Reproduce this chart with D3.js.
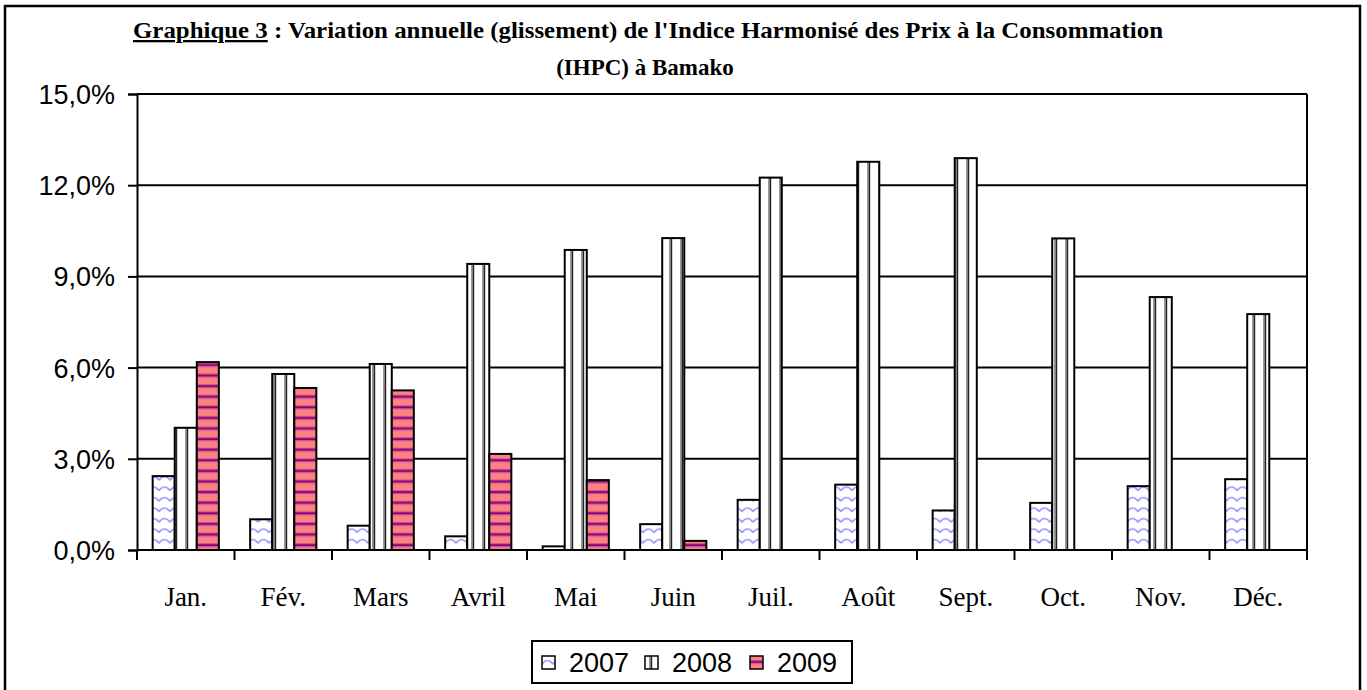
<!DOCTYPE html>
<html>
<head>
<meta charset="utf-8">
<script src="https://cdn.jsdelivr.net/npm/d3@7"></script>
<style>
  body { margin: 0; background: #fff; }
  svg { display: block; }
  .axis path, .axis line { stroke: #000; stroke-width: 2; }
  .ylab text { font-family: "Liberation Sans", Arial, sans-serif; font-size: 27px; fill: #000; }
  .xlab text { font-family: "Liberation Serif", "Times New Roman", serif; font-size: 27px; fill: #000; }
</style>
</head>
<body>
<div id="chart"></div>
<script>
// data
const months = ["Jan.", "Fév.", "Mars", "Avril", "Mai", "Juin", "Juil.", "Août", "Sept.", "Oct.", "Nov.", "Déc."];
const years = ["2007", "2008", "2009"];
const v2007 = [2.43, 1.01, 0.80, 0.45, 0.12, 0.85, 1.65, 2.15, 1.30, 1.55, 2.10, 2.33];
const v2008 = [4.02, 5.79, 6.12, 9.41, 9.87, 10.26, 12.25, 12.77, 12.89, 10.25, 8.32, 7.76];
const v2009 = [6.18, 5.33, 5.25, 3.16, 2.30, 0.30, null, null, null, null, null, null];
const yTicks = [0, 3, 6, 9, 12, 15];
const yTickLabels = ["0,0%", "3,0%", "6,0%", "9,0%", "12,0%", "15,0%"];

const W = 1367, H = 690;
const margin = { top: 94, right: 60, bottom: 140, left: 137 };
const width = W - margin.left - margin.right;
const height = H - margin.top - margin.bottom;

const svg = d3.select("#chart")
  .append("svg")
  .attr("width", W)
  .attr("height", H);

// patterns
const defs = svg.append("defs");
const p07 = defs.append("pattern")
  .attr("id", "p2007").attr("patternUnits", "userSpaceOnUse")
  .attr("width", 11).attr("height", 10.5);
p07.append("rect").attr("width", 11).attr("height", 10.5).attr("fill", "#fff");
p07.append("path").attr("d", "M0,8 Q5.5,1 11,8")
  .attr("fill", "none").attr("stroke", "#8f8fff").attr("stroke-width", 1.6);

const p08 = defs.append("pattern")
  .attr("id", "p2008").attr("patternUnits", "userSpaceOnUse")
  .attr("width", 11).attr("height", 10);
p08.append("rect").attr("width", 11).attr("height", 10).attr("fill", "#fff");
p08.append("rect").attr("x", 4).attr("width", 1.6).attr("height", 10).attr("fill", "#999");
p08.append("rect").attr("x", 5.6).attr("width", 1.6).attr("height", 10).attr("fill", "#222");

const p09 = defs.append("pattern")
  .attr("id", "p2009").attr("patternUnits", "userSpaceOnUse")
  .attr("width", 10).attr("height", 10.6);
p09.append("rect").attr("width", 10).attr("height", 10.6).attr("fill", "#ff8080");
p09.append("rect").attr("y", 4).attr("width", 10).attr("height", 1).attr("fill", "#c0508a");
p09.append("rect").attr("y", 5).attr("width", 10).attr("height", 2).attr("fill", "#800080");
p09.append("rect").attr("y", 7).attr("width", 10).attr("height", 1).attr("fill", "#c0508a");

const fills = { "2007": "url(#p2007)", "2008": "url(#p2008)", "2009": "url(#p2009)" };

// outer frame
svg.append("rect")
  .attr("x", 5).attr("y", 6).attr("width", 1355).attr("height", 700)
  .attr("fill", "none").attr("stroke", "#000").attr("stroke-width", 2.5);

// title
const title = svg.append("text")
  .attr("text-anchor", "middle")
  .style("font-family", "'Liberation Serif', 'Times New Roman', serif")
  .style("font-weight", "bold")
  .style("font-size", "23px");
const t1 = title.append("tspan").attr("x", 648).attr("y", 38)
  .attr("textLength", 1030).attr("lengthAdjust", "spacingAndGlyphs");
t1.append("tspan").style("text-decoration", "underline").text("Graphique 3");
t1.append("tspan").text(" :  Variation annuelle (glissement) de l'Indice Harmonisé des Prix à la Consommation");
title.append("tspan").attr("x", 645).attr("y", 75).text("(IHPC) à Bamako");

const g = svg.append("g").attr("transform", `translate(${margin.left},${margin.top})`);

const x0 = d3.scaleBand().domain(months).range([0, width]).padding(0);
const x1 = d3.scaleBand().domain(years).range([0, x0.bandwidth()]).paddingInner(0).paddingOuter(0.71);
const y = d3.scaleLinear().domain([0, 15]).range([height, 0]);

// gridlines
g.append("g")
  .selectAll("line")
  .data(yTicks.slice(1))
  .join("line")
  .attr("x1", 0).attr("x2", width)
  .attr("y1", d => y(d)).attr("y2", d => y(d))
  .attr("stroke", "#000").attr("stroke-width", 2);

// right border of plot area
g.append("line")
  .attr("x1", width).attr("x2", width)
  .attr("y1", 0).attr("y2", height)
  .attr("stroke", "#000").attr("stroke-width", 2);

// bars
const series = years.map((yr, i) => ({ key: yr, values: [v2007, v2008, v2009][i] }));
g.append("g")
  .selectAll("g")
  .data(series)
  .join("g")
  .selectAll("rect")
  .data(s => s.values.map((v, i) => ({ key: s.key, month: months[i], value: v })).filter(d => d.value != null))
  .join("rect")
  .attr("x", d => x0(d.month) + x1(d.key))
  .attr("y", d => y(d.value))
  .attr("width", x1.bandwidth())
  .attr("height", d => y(0) - y(d.value))
  .attr("fill", d => fills[d.key])
  .attr("stroke", "#000")
  .attr("stroke-width", 2);

// y axis
const yAxis = g.append("g")
  .attr("class", "axis ylab")
  .call(d3.axisLeft(y).tickValues(yTicks).tickSize(9).tickPadding(13)
    .tickFormat((d, i) => yTickLabels[i]));
yAxis.selectAll("text").attr("dy", "0.35em");

// x axis: labels centred, ticks at band edges
const xAxis = g.append("g")
  .attr("class", "axis xlab")
  .attr("transform", `translate(0,${height})`)
  .call(d3.axisBottom(x0).tickSize(0).tickPadding(37));
xAxis.select(".domain").attr("d", `M0,0H${width}`);
xAxis.selectAll("text").attr("dy", "0.71em");
xAxis.append("g")
  .selectAll("line")
  .data(months.concat(["end"]))
  .join("line")
  .attr("x1", (d, i) => i < months.length ? x0(d) : width)
  .attr("x2", (d, i) => i < months.length ? x0(d) : width)
  .attr("y1", 0).attr("y2", 10);

// legend
const legend = svg.append("g").attr("transform", "translate(532,641)");
legend.append("rect")
  .attr("width", 320).attr("height", 42)
  .attr("fill", "#fff").attr("stroke", "#000").attr("stroke-width", 2);
const legX = [10, 113, 218];
const item = legend.selectAll("g.item")
  .data(years)
  .join("g")
  .attr("class", "item")
  .attr("transform", (d, i) => `translate(${legX[i]},15)`);
item.append("rect")
  .attr("width", 13).attr("height", 13)
  .attr("fill", d => fills[d])
  .attr("stroke", "#000").attr("stroke-width", 1.5);
item.append("text")
  .attr("x", 27).attr("y", 16)
  .style("font-family", "'Liberation Sans', Arial, sans-serif")
  .style("font-size", "27px")
  .text(d => d);
</script>
</body>
</html>
